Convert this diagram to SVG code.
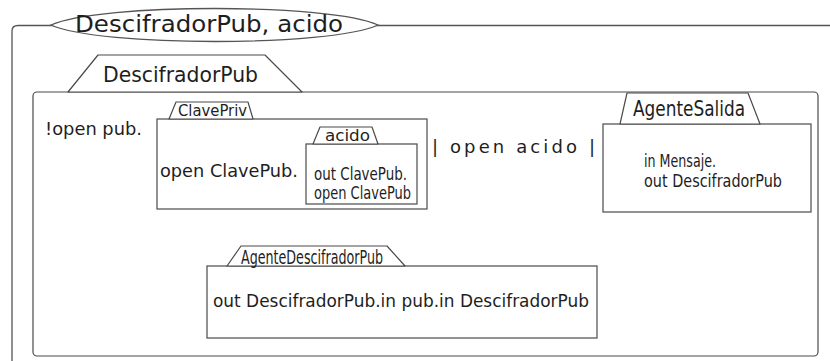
<svg xmlns="http://www.w3.org/2000/svg" width="830" height="361" viewBox="0 0 830 361">
  <style>
    .frame { fill: none; stroke: #555; stroke-width: 1.3; }
    .box { fill: #fff; stroke: #4a4a4a; stroke-width: 1.2; }
    .tab { fill: #fff; stroke: #4a4a4a; stroke-width: 1.2; stroke-linejoin: round; }
    .t { font-family: "DejaVu Sans", "Liberation Sans", sans-serif; fill: #1e1e1e; }
    .c { font-family: "DejaVu Sans Condensed", "DejaVu Sans", "Liberation Sans", sans-serif; fill: #1e1e1e; }
  </style>

  <!-- ambient: DescifradorPub, acido -->
  <g id="ambient-outer">
    <path class="frame" d="M12,361 V31 Q12,25.5 18,25.5 H830"/>
    <path d="M51,25 C100,3 330,3 378,25 C330,47 100,47 51,25 Z" fill="#fff" stroke="#555" stroke-width="1.3"/>
    <text class="t" x="75" y="32" font-size="23" textLength="268" lengthAdjust="spacingAndGlyphs">DescifradorPub, acido</text>
  </g>

  <!-- ambient: DescifradorPub -->
  <g id="descifrador-pub">
    <rect class="box" x="33" y="92" width="785" height="264" rx="4"/>
    <polygon class="tab" points="68,92 98,55 265,55 302,92"/>
    <text class="t" x="103" y="82" font-size="21" textLength="155" lengthAdjust="spacingAndGlyphs">DescifradorPub</text>
    <text class="t" x="45" y="135" font-size="18" textLength="97" lengthAdjust="spacingAndGlyphs">!open pub.</text>
    <text class="t" x="432" y="153" font-size="18" textLength="163" lengthAdjust="spacing">| open acido |</text>
  </g>

  <!-- ambient: ClavePriv -->
  <g id="clave-priv">
    <rect class="box" x="157" y="119" width="270" height="90"/>
    <polygon class="tab" points="169,119 176,102 248,102 253,119"/>
    <text class="c" x="178" y="116" font-size="16" textLength="69" lengthAdjust="spacingAndGlyphs">ClavePriv</text>
    <text class="t" x="160" y="177" font-size="17.5" textLength="138" lengthAdjust="spacingAndGlyphs">open ClavePub.</text>
  </g>

  <!-- ambient: acido -->
  <g id="acido">
    <rect class="box" x="306" y="144" width="111" height="60"/>
    <polygon class="tab" points="313,144 320,127 372,127 378,144"/>
    <text class="t" x="325" y="141" font-size="16" textLength="45" lengthAdjust="spacingAndGlyphs">acido</text>
    <text class="c" x="314" y="180" font-size="17" textLength="93" lengthAdjust="spacingAndGlyphs">out ClavePub.</text>
    <text class="c" x="314" y="199" font-size="17" textLength="97" lengthAdjust="spacingAndGlyphs">open ClavePub</text>
  </g>

  <!-- ambient: AgenteSalida -->
  <g id="agente-salida">
    <rect class="box" x="603" y="124" width="208" height="88"/>
    <polygon class="tab" points="620,124 627,93 748,93 760,124"/>
    <text class="c" x="633" y="116" font-size="22" textLength="112" lengthAdjust="spacingAndGlyphs">AgenteSalida</text>
    <text class="c" x="644" y="167" font-size="18" textLength="72" lengthAdjust="spacingAndGlyphs">in Mensaje.</text>
    <text class="c" x="644" y="187" font-size="18" textLength="138" lengthAdjust="spacingAndGlyphs">out DescifradorPub</text>
  </g>

  <!-- ambient: AgenteDescifradorPub -->
  <g id="agente-descifrador-pub">
    <rect class="box" x="207" y="266" width="390" height="72"/>
    <polygon class="tab" points="227,266 241,246 387,246 405,266"/>
    <text class="c" x="241" y="264" font-size="20" textLength="142" lengthAdjust="spacingAndGlyphs">AgenteDescifradorPub</text>
    <text class="t" x="213" y="307" font-size="17" textLength="376" lengthAdjust="spacingAndGlyphs">out DescifradorPub.in pub.in DescifradorPub</text>
  </g>

  <g id="connectors"/>
</svg>
